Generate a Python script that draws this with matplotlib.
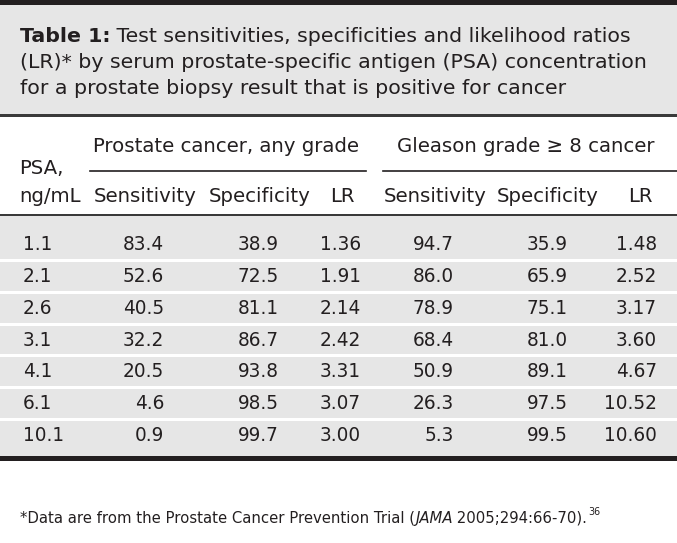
import matplotlib
matplotlib.use("Agg")
import matplotlib.pyplot as plt
from matplotlib.patches import Rectangle

plt.rcParams['font.family'] = ['DejaVu Sans']

# table content
title_bold = "Table 1:"
title_lines = [" Test sensitivities, specificities and likelihood ratios",
               "(LR)* by serum prostate-specific antigen (PSA) concentration",
               "for a prostate biopsy result that is positive for cancer"]
groups = ["Prostate cancer, any grade", "Gleason grade \u2265 8 cancer"]
subheads = ["Sensitivity", "Specificity", "LR", "Sensitivity", "Specificity", "LR"]
psa = ["1.1", "2.1", "2.6", "3.1", "4.1", "6.1", "10.1"]
sens_any = ["83.4", "52.6", "40.5", "32.2", "20.5", "4.6", "0.9"]
spec_any = ["38.9", "72.5", "81.1", "86.7", "93.8", "98.5", "99.7"]
lr_any = ["1.36", "1.91", "2.14", "2.42", "3.31", "3.07", "3.00"]
sens_g8 = ["94.7", "86.0", "78.9", "68.4", "50.9", "26.3", "5.3"]
spec_g8 = ["35.9", "65.9", "75.1", "81.0", "89.1", "97.5", "99.5"]
lr_g8 = ["1.48", "2.52", "3.17", "3.60", "4.67", "10.52", "10.60"]
footnote = ["*Data are from the Prostate Cancer Prevention Trial (", "JAMA",
            " 2005;294:66-70).", "36"]

W, H = 677, 543
ink = "#231f20"
grey = "#e6e6e6"

fig = plt.figure(figsize=(W / 100, H / 100), dpi=100)
ax = fig.add_axes([0, 0, 1, 1])
ax.set_xlim(0, W)
ax.set_ylim(H, 0)
ax.axis("off")
fig.canvas.draw()
rend = fig.canvas.get_renderer()


def put(x, y, s, fs, **kw):
    kw.setdefault("color", ink)
    kw.setdefault("va", "center")
    return ax.text(x, y, s, fontsize=fs, **kw)


def width(t):
    return t.get_window_extent(rend).width


def fit(s, target, **kw):
    # font size that makes s about target px wide
    t = ax.text(0, 0, s, fontsize=10, **kw)
    w = width(t)
    t.remove()
    return 10 * target / w


fs_title = fit(title_bold + title_lines[0], 600)
fs_head = fit(subheads[0], 103)
fs_num = fit(sens_any[0], 41)
fs_foot = fit("".join(footnote[:3]), 566)

# title box
ax.add_patch(Rectangle((0, 0), W, 5, color=ink, lw=0))
ax.add_patch(Rectangle((0, 5), W, 110, color=grey, lw=0))
ax.add_patch(Rectangle((0, 114), W, 2.5, color="#3a3a3a", lw=0))

tb = put(20, 36, title_bold, fs_title, fontweight="bold")
put(20 + width(tb), 36, title_lines[0], fs_title)
put(20, 62, title_lines[1], fs_title)
put(20, 88, title_lines[2], fs_title)

# header
put(226, 147, groups[0], fs_head, ha="center")
put(526, 147, groups[1], fs_head, ha="center")
ax.plot([90, 366], [170.5, 170.5], color=ink, lw=1.2)
ax.plot([383, 677], [170.5, 170.5], color=ink, lw=1.2)
put(19, 168, "PSA,", fs_head)
put(19, 196, "ng/mL", fs_head)
sub_x = [145, 260, 342, 435, 548, 640]
for x, s in zip(sub_x, subheads):
    put(x, 196, s, fs_head, ha="center")
ax.add_patch(Rectangle((0, 213.5), W, 2.5, color="#3a3a3a", lw=0))

# body rows
row0, row_h = 245, 31.7
ax.add_patch(Rectangle((0, 216), W, 241, color=grey, lw=0))
for i in range(len(psa) - 1):
    ax.add_patch(Rectangle((0, row0 + (i + 0.5) * row_h - 1.5), W, 3,
                           color="white", lw=0))
ax.add_patch(Rectangle((0, 456), W, 4.5, color=ink, lw=0))

cols = [sens_any, spec_any, lr_any, sens_g8, spec_g8, lr_g8]
right_x = [164, 279, 361, 454, 568, 657]
for i, p in enumerate(psa):
    y = row0 + i * row_h
    put(23, y, p, fs_num)
    for x, col in zip(right_x, cols):
        put(x, y, col[i], fs_num, ha="right")

# footnote
fx, fy = 20, 518
t = put(fx, fy, footnote[0], fs_foot)
fx += width(t)
t = put(fx, fy, footnote[1], fs_foot, style="italic")
fx += width(t)
t = put(fx, fy, footnote[2], fs_foot)
fx += width(t)
put(fx + 1, fy - 6, footnote[3], fs_foot * 0.65)

fig.savefig("out.png", dpi=100)
